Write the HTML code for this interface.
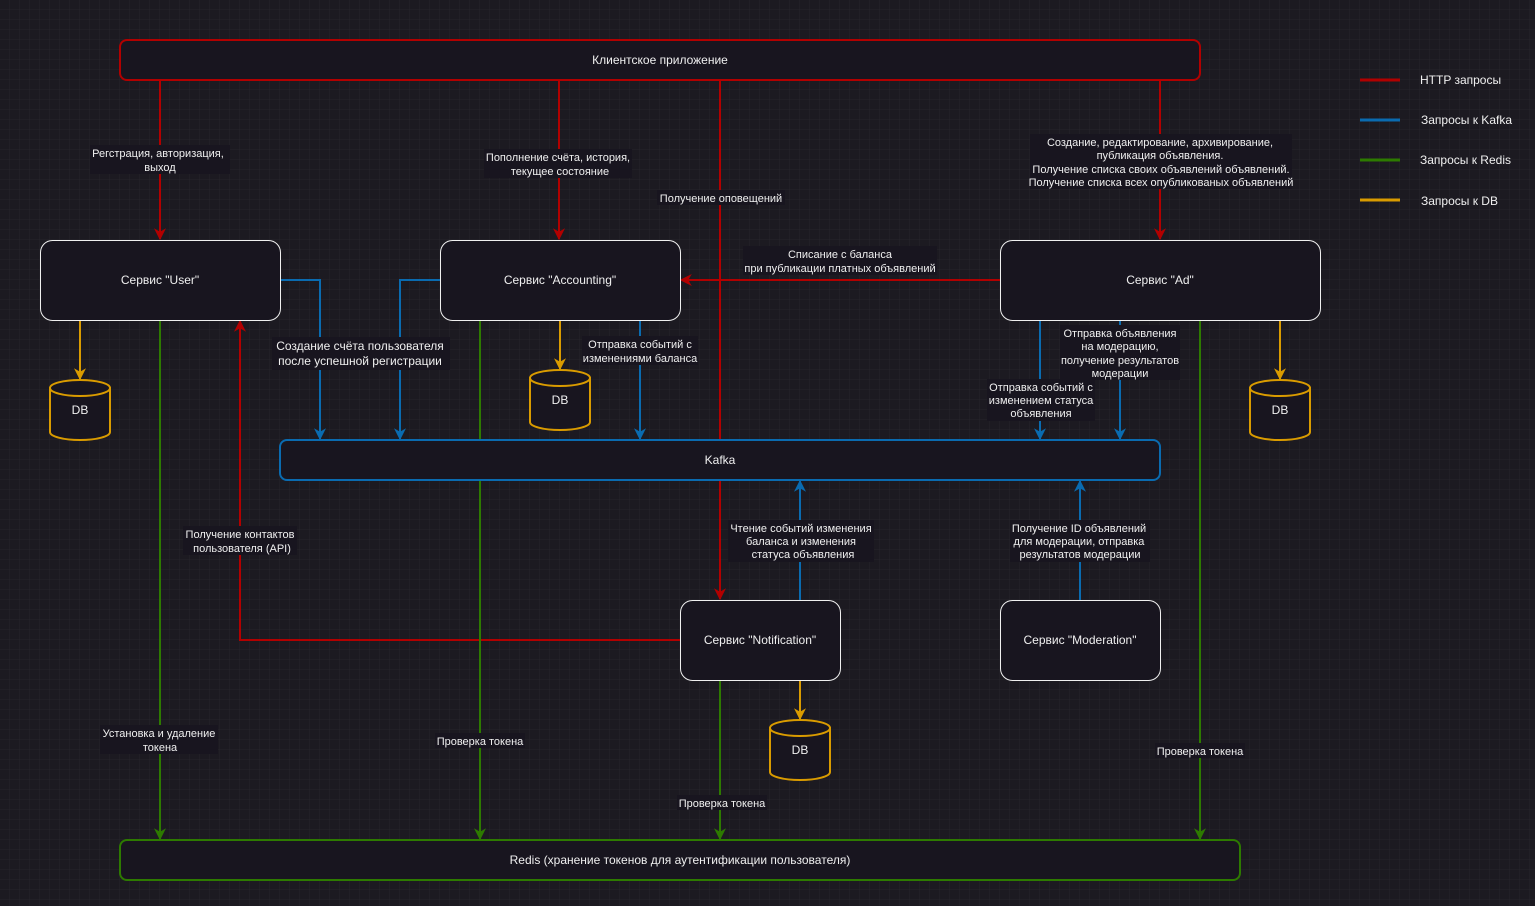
<!DOCTYPE html>
<html><head><meta charset="utf-8"><style>
html,body{margin:0;padding:0;background:#1c1a21;}
svg{display:block;}
text{font-family:"Liberation Sans",sans-serif;font-size:11px;fill:#f0f0f0;text-anchor:middle;}
text.b{font-size:12px;}
</style></head><body>
<svg width="1535" height="906" xmlns="http://www.w3.org/2000/svg">
<defs>
<pattern id="minor" width="10" height="10" patternUnits="userSpaceOnUse"><path d="M10 0V10H0" fill="none" stroke="#26242b" stroke-width="1"/></pattern>
<pattern id="major" width="40" height="40" patternUnits="userSpaceOnUse"><rect width="40" height="40" fill="url(#minor)"/><path d="M40.5 0V40M0 40.5H40" fill="none" stroke="#36343c" stroke-width="1"/></pattern>
<marker id="ar" viewBox="0 0 10 10" refX="9" refY="5" markerWidth="12" markerHeight="12" markerUnits="userSpaceOnUse" orient="auto"><path d="M0 0L10 5L0 10L3 5Z" fill="#b20000"/></marker>
<marker id="ab" viewBox="0 0 10 10" refX="9" refY="5" markerWidth="12" markerHeight="12" markerUnits="userSpaceOnUse" orient="auto"><path d="M0 0L10 5L0 10L3 5Z" fill="#0a6bb0"/></marker>
<marker id="ag" viewBox="0 0 10 10" refX="9" refY="5" markerWidth="12" markerHeight="12" markerUnits="userSpaceOnUse" orient="auto"><path d="M0 0L10 5L0 10L3 5Z" fill="#2d7a00"/></marker>
<marker id="ao" viewBox="0 0 10 10" refX="9" refY="5" markerWidth="12" markerHeight="12" markerUnits="userSpaceOnUse" orient="auto"><path d="M0 0L10 5L0 10L3 5Z" fill="#d99b00"/></marker>
</defs>
<rect width="1535" height="906" fill="#1c1a21"/>
<rect width="1535" height="906" fill="url(#major)"/>

<g fill="none" stroke-width="2">
<g stroke="#b20000">
<path d="M160 80V239" marker-end="url(#ar)"/>
<path d="M559 80V239" marker-end="url(#ar)"/>
<path d="M1160 80V239" marker-end="url(#ar)"/>
<path d="M720 80V599" marker-end="url(#ar)"/>
<path d="M1000 280H681" marker-end="url(#ar)"/>
<path d="M680 640H240V321" marker-end="url(#ar)"/>
</g>
<g stroke="#0a6bb0">
<path d="M280 280H320V439" marker-end="url(#ab)"/>
<path d="M440 280H400V439" marker-end="url(#ab)"/>
<path d="M640 320V439" marker-end="url(#ab)"/>
<path d="M1040 320V439" marker-end="url(#ab)"/>
<path d="M1120 320V439" marker-end="url(#ab)"/>
<path d="M800 600V481" marker-end="url(#ab)"/>
<path d="M1080 600V481" marker-end="url(#ab)"/>
</g>
<g stroke="#2d7a00">
<path d="M160 320V839" marker-end="url(#ag)"/>
<path d="M480 320V839" marker-end="url(#ag)"/>
<path d="M720 680V839" marker-end="url(#ag)"/>
<path d="M1200 320V839" marker-end="url(#ag)"/>
</g>
<g stroke="#d99b00">
<path d="M80 320V379" marker-end="url(#ao)"/>
<path d="M560 320V369" marker-end="url(#ao)"/>
<path d="M1280 320V379" marker-end="url(#ao)"/>
<path d="M800 680V719" marker-end="url(#ao)"/>
</g>
</g>

<g stroke-width="2" fill="#18151f">
<rect x="120" y="40" width="1080" height="40" rx="7" stroke="#b20000"/>
<rect x="280" y="440" width="880" height="40" rx="7" stroke="#0a6bb0"/>
<rect x="120" y="840" width="1120" height="40" rx="7" stroke="#2d7a00"/>
</g>
<g stroke="#f0f0f0" stroke-width="1" fill="#18151f">
<rect x="40.5" y="240.5" width="240" height="80" rx="12"/>
<rect x="440.5" y="240.5" width="240" height="80" rx="12"/>
<rect x="1000.5" y="240.5" width="320" height="80" rx="12"/>
<rect x="680.5" y="600.5" width="160" height="80" rx="12"/>
<rect x="1000.5" y="600.5" width="160" height="80" rx="12"/>
</g>
<g stroke="#d99b00" stroke-width="2" fill="#18151f">
<path d="M50 388V432A30 8 0 0 0 110 432V388Z"/><ellipse cx="80" cy="388" rx="30" ry="8"/>
<path d="M530 378V422A30 8 0 0 0 590 422V378Z"/><ellipse cx="560" cy="378" rx="30" ry="8"/>
<path d="M1250 388V432A30 8 0 0 0 1310 432V388Z"/><ellipse cx="1280" cy="388" rx="30" ry="8"/>
<path d="M770 728V772A30 8 0 0 0 830 772V728Z"/><ellipse cx="800" cy="728" rx="30" ry="8"/>
</g>
<text class="b" x="80" y="414">DB</text>
<text class="b" x="560" y="404">DB</text>
<text class="b" x="1280" y="414">DB</text>
<text class="b" x="800" y="754">DB</text>

<text class="b" x="660" y="64">Клиентское приложение</text>
<text class="b" x="160" y="284">Сервис "User"</text>
<text class="b" x="560" y="284">Сервис "Accounting"</text>
<text class="b" x="1160" y="284">Сервис "Ad"</text>
<text class="b" x="720" y="464">Kafka</text>
<text class="b" x="760" y="644">Сервис "Notification"</text>
<text class="b" x="1080" y="644">Сервис "Moderation"</text>
<text class="b" x="680" y="864">Redis (хранение токенов для аутентификации пользователя)</text>

<g fill="#18151f">
<rect x="90" y="145" width="140" height="29"/>
<rect x="484" y="149" width="148" height="29"/>
<rect x="657" y="190" width="128" height="15"/>
<rect x="1030" y="134" width="262" height="55"/>
<rect x="743" y="246" width="194" height="29"/>
<rect x="272" y="337" width="178" height="33"/>
<rect x="582" y="336" width="116" height="29"/>
<rect x="1060" y="325" width="120" height="55"/>
<rect x="987" y="379" width="108" height="42"/>
<rect x="728" y="520" width="146" height="42"/>
<rect x="1010" y="520" width="140" height="42"/>
<rect x="183" y="526" width="114" height="29"/>
<rect x="100" y="725" width="118" height="29"/>
<rect x="435" y="733" width="90" height="15"/>
<rect x="677" y="795" width="90" height="15"/>
<rect x="1155" y="743" width="90" height="15"/>
</g>
<text x="158" y="157">Регстрация, авторизация,</text><text x="160" y="171">выход</text>
<text x="558" y="161">Пополнение счёта, история,</text><text x="560" y="175">текущее состояние</text>
<text x="721" y="202">Получение оповещений</text>
<text x="1160" y="146">Создание, редактирование, архивирование,</text>
<text x="1160" y="159">публикация объявления.</text>
<text x="1161" y="173">Получение списка своих объявлений объявлений.</text>
<text x="1161" y="186">Получение списка всех опубликованых объявлений</text>
<text x="840" y="258">Списание с баланса</text><text x="840" y="272">при публикации платных объявлений</text>
<text x="360" y="350" style="font-size:12px">Создание счёта пользователя</text><text x="360" y="365" style="font-size:12px">после успешной регистрации</text>
<text x="640" y="348">Отправка событий с</text><text x="640" y="362">изменениями баланса</text>
<text x="1120" y="337">Отправка объявления</text><text x="1120" y="350">на модерацию,</text><text x="1120" y="364">получение результатов</text><text x="1120" y="377">модерации</text>
<text x="1041" y="391">Отправка событий с</text><text x="1041" y="404">изменением статуса</text><text x="1041" y="417">объявления</text>
<text x="801" y="532">Чтение событий изменения</text><text x="801" y="545">баланса и изменения</text><text x="803" y="558">статуса объявления</text>
<text x="1079" y="532">Получение ID объявлений</text><text x="1079" y="545">для модерации, отправка</text><text x="1080" y="558">результатов модерации</text>
<text x="240" y="538">Получение контактов</text><text x="242" y="552">пользователя (API)</text>
<text x="159" y="737">Установка и удаление</text><text x="160" y="751">токена</text>
<text x="480" y="745">Проверка токена</text>
<text x="722" y="807">Проверка токена</text>
<text x="1200" y="755">Проверка токена</text>

<g stroke-width="3">
<path d="M1360 80H1400" stroke="#b20000"/>
<path d="M1360 120H1400" stroke="#0a6bb0"/>
<path d="M1360 160H1400" stroke="#2d7a00"/>
<path d="M1360 200H1400" stroke="#d99b00"/>
</g>
<text class="b" x="1420" y="84" style="text-anchor:start">HTTP запросы</text>
<text class="b" x="1421" y="124" style="text-anchor:start">Запросы к Kafka</text>
<text class="b" x="1420" y="164" style="text-anchor:start">Запросы к Redis</text>
<text class="b" x="1421" y="205" style="text-anchor:start">Запросы к DB</text>
</svg>
</body></html>
